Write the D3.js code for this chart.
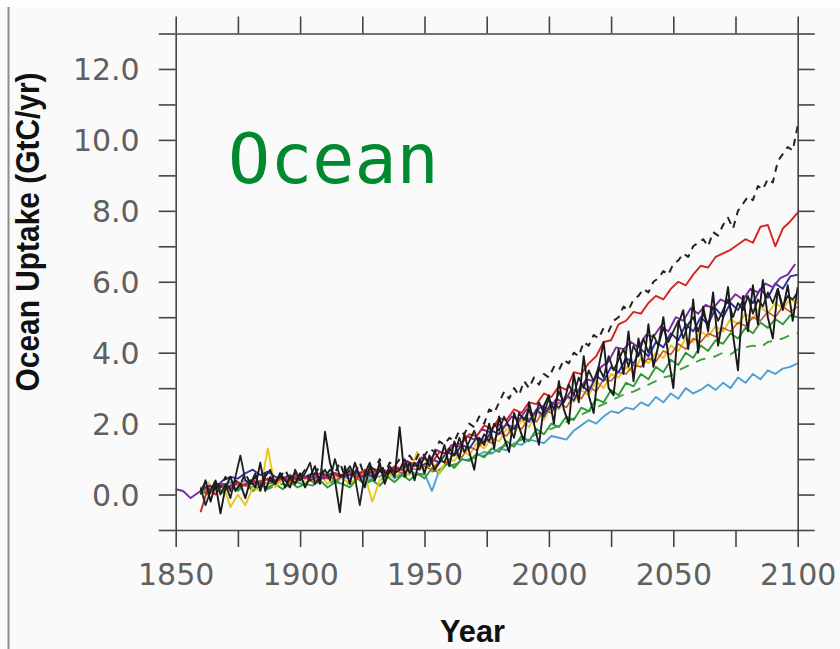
<!DOCTYPE html>
<html>
<head>
<meta charset="utf-8">
<script src="https://cdn.jsdelivr.net/npm/d3@7"></script>
<style>
  html, body { margin: 0; padding: 0; background: #fafafa; }
  svg { display: block; }
</style>
</head>
<body>
<div id="chart"></div>
<script>
// ocean carbon uptake (GtC/yr)
// colored series: every 3 years from 1860 (purple from 1850), black series: every 2 years
const xTickYears = [1850, 1875, 1900, 1925, 1950, 1975, 2000, 2025, 2050, 2075, 2100];
const xLabelYears = [1850, 1900, 1950, 2000, 2050, 2100];
const yTickValues = [-1, 0, 1, 2, 3, 4, 5, 6, 7, 8, 9, 10, 11, 12, 13];
const yLabelValues = [0, 2, 4, 6, 8, 10, 12];

const lightBlue = [
  0.2,0.1,0.3,0.2,0.35,0.25,0.4,0.3,0.35,0.45,
  0.3,0.4,0.35,0.5,0.3,0.45,0.4,0.55,0.35,0.5,
  0.45,0.6,0.4,0.55,0.5,0.65,0.45,0.6,0.7,0.55,
  0.6,0.1,0.7,0.85,0.8,1.0,0.95,1.1,1.2,1.15,
  1.3,1.25,1.45,1.4,1.55,1.5,1.45,1.65,1.6,1.55,
  1.8,1.95,2.1,2.0,2.2,2.35,2.3,2.45,2.4,2.6,
  2.5,2.75,2.6,2.85,2.7,3.0,2.85,2.95,3.1,2.95,
  3.15,3.0,3.3,3.15,3.4,3.25,3.5,3.4,3.55,3.6,
  3.7
];
const green = [
  0.1,0.0,0.2,0.05,0.25,0.15,0.3,0.1,0.25,0.2,
  0.3,0.15,0.35,0.2,0.3,0.25,0.4,0.2,0.35,0.3,
  0.2,0.45,0.3,0.4,0.25,0.5,0.35,0.55,0.4,0.6,
  0.45,0.75,0.6,0.9,0.75,1.0,0.95,1.15,1.05,1.3,
  1.2,1.5,1.35,1.65,1.5,1.85,1.7,2.0,1.9,2.2,
  2.1,2.45,2.35,2.7,2.6,2.95,2.8,3.15,3.05,3.4,
  3.25,3.6,3.45,3.8,3.65,4.0,3.85,4.2,4.05,4.35,
  4.25,4.55,4.4,4.7,4.55,4.85,4.7,4.95,4.8,5.05,
  5.0
];
const greenDashed = [
  0.15,0.05,0.2,0.1,0.2,0.1,0.25,0.2,0.3,0.15,
  0.25,0.3,0.2,0.35,0.25,0.3,0.35,0.3,0.4,0.35,
  0.3,0.4,0.35,0.45,0.4,0.5,0.45,0.55,0.5,0.6,
  0.55,0.65,0.7,0.8,0.85,0.9,1.0,1.05,1.1,1.2,
  1.3,1.4,1.45,1.55,1.6,1.7,1.8,1.85,1.95,2.05,
  2.15,2.25,2.35,2.45,2.55,2.65,2.75,2.85,2.9,3.0,
  3.1,3.2,3.3,3.35,3.5,3.6,3.7,3.8,3.85,3.9,
  4.0,3.95,4.1,4.15,4.2,4.15,4.3,4.35,4.4,4.5,
  4.55
];
const yellow = [
  0.2,0.35,0.1,0.3,-0.35,0.0,-0.3,0.2,0.1,1.3,
  0.2,0.45,0.3,0.5,0.35,0.4,0.55,0.3,0.5,0.45,
  0.3,0.5,0.55,-0.2,0.4,0.6,0.5,0.65,0.55,1.2,
  0.7,0.9,0.6,1.0,0.95,1.25,1.1,1.45,1.3,1.6,
  1.5,1.85,1.7,2.1,1.9,2.35,2.1,2.5,2.4,2.75,
  2.6,2.95,2.8,3.2,3.0,3.4,3.3,3.6,3.45,3.85,
  3.7,4.0,3.85,4.2,4.05,4.4,4.3,4.6,4.45,4.75,
  4.6,4.95,4.8,5.1,4.95,5.3,5.1,5.4,5.25,5.5,
  5.4
];
const orange = [
  0.1,0.25,0.15,0.3,0.2,0.35,0.25,0.3,0.4,0.3,
  0.35,0.45,0.3,0.4,0.5,0.35,0.45,0.6,0.4,0.5,
  0.55,0.45,0.6,0.5,0.65,0.55,0.7,0.6,0.75,0.7,
  0.8,0.7,0.95,0.9,1.15,1.05,1.35,1.25,1.55,1.45,
  1.75,1.65,1.95,1.85,2.15,2.05,2.4,2.3,2.6,2.45,
  2.8,2.7,3.05,2.9,3.25,3.2,3.45,3.4,3.65,3.6,
  3.85,3.75,4.05,3.95,4.25,4.1,4.4,4.3,4.55,4.45,
  4.7,4.6,4.85,4.75,5.0,4.9,5.15,5.0,5.3,5.15,
  5.3
];
const darkBlue = [
  0.1,0.25,0.2,0.4,0.5,0.45,0.6,0.7,0.55,0.65,
  0.5,0.45,0.55,0.4,0.5,0.6,0.45,0.55,0.6,0.5,
  0.55,0.6,0.65,0.5,0.7,0.6,0.75,0.7,0.85,0.8,
  0.85,1.0,0.9,1.2,1.1,1.4,1.3,1.6,1.45,1.8,
  1.7,2.0,1.85,2.2,2.05,2.4,2.2,2.6,2.45,2.8,
  2.65,3.1,2.9,3.35,3.2,3.6,3.45,3.85,3.7,4.1,
  3.9,4.3,4.15,4.55,4.35,4.8,4.6,5.0,4.8,5.25,
  5.0,5.4,5.2,5.6,5.4,5.8,5.55,5.95,5.8,6.15,
  6.2
];
const purple = [
  0.15,0.1,-0.1,0.05,0.2,0.1,0.3,0.2,0.35,0.25,
  0.4,0.3,0.45,0.35,0.5,0.4,0.45,0.55,0.4,0.5,
  0.45,0.6,0.5,0.55,0.65,0.5,0.6,0.7,0.6,0.75,
  0.7,0.95,0.8,1.05,0.95,1.25,1.15,1.4,1.35,1.65,
  1.55,1.85,1.75,2.0,1.9,2.2,2.1,2.4,2.25,2.5,
  2.4,2.7,2.6,2.95,2.9,3.25,3.2,3.6,3.75,4.15,
  4.1,4.3,4.15,4.5,4.45,4.75,4.6,5.0,4.9,5.25,
  5.1,5.35,5.25,5.5,5.4,5.65,5.5,5.8,5.7,5.95,
  5.85,6.1,6.2,6.5
];
const red = [
  -0.5,0.2,0.0,0.3,0.15,0.35,0.25,0.4,0.3,0.45,
  0.35,0.5,0.4,0.55,0.45,0.5,0.6,0.45,0.6,0.55,
  0.65,0.5,0.7,0.6,0.75,0.65,0.8,0.7,0.9,0.85,
  1.0,0.9,1.2,1.15,1.4,1.45,1.7,1.65,1.95,1.85,
  2.15,2.1,2.4,2.3,2.6,2.55,2.85,2.75,3.05,2.95,
  3.45,3.4,3.7,3.9,4.3,4.35,4.8,4.9,5.15,5.1,
  5.4,5.6,5.5,5.8,6.0,5.9,6.2,6.45,6.4,6.7,
  6.8,6.9,7.05,7.2,7.1,7.55,7.6,7.0,7.5,7.7,
  7.95
];
const blackA = [
  0.0,0.4,-0.2,0.3,-0.53,0.2,0.5,0.1,0.3,-0.1,
  0.4,0.2,0.9,0.1,0.5,0.3,0.6,0.2,0.5,0.3,
  0.6,0.2,0.5,0.8,0.3,1.77,0.9,0.4,-0.5,0.8,
  0.3,0.9,0.5,0.2,0.8,0.4,0.9,0.3,0.7,0.5,
  1.9,0.5,0.9,0.4,1.0,0.6,1.1,0.7,0.9,1.4,
  0.8,1.5,1.0,1.7,1.2,0.7,1.6,1.4,2.0,1.3,
  2.2,1.6,1.2,2.3,1.9,1.5,2.6,2.0,1.4,2.5,
  2.8,2.0,3.2,2.4,2.0,3.4,2.6,3.9,2.8,2.3,
  3.6,4.3,3.0,2.8,4.1,3.4,4.6,3.2,4.4,3.6,
  4.8,3.6,4.2,5.0,3.9,3.0,4.8,5.2,4.1,5.5,
  4.0,5.3,4.6,5.7,4.2,5.0,5.85,4.5,3.5,5.6,
  4.6,5.9,4.8,6.05,5.0,4.4,5.8,5.2,5.9,4.9,
  5.85
];
const blackB = [
  0.2,-0.3,0.1,0.4,0.0,0.3,-0.1,0.5,1.1,0.4,
  0.3,0.6,0.1,0.5,0.7,0.3,0.6,0.4,0.2,0.7,
  0.4,0.6,0.9,0.3,0.5,0.7,0.4,1.0,0.5,0.6,
  0.8,0.5,-0.3,0.6,0.9,0.4,0.7,0.5,0.8,0.6,
  0.7,1.0,0.6,0.9,0.7,1.1,0.8,1.2,1.0,0.9,
  1.3,1.1,1.6,1.2,1.5,1.8,1.4,1.7,1.5,2.0,
  1.8,2.2,1.9,1.6,2.3,2.1,2.4,2.0,2.6,2.3,
  2.7,2.4,2.9,2.6,3.1,2.8,3.3,3.0,3.5,3.2,
  3.6,3.3,3.9,3.5,3.8,4.1,3.6,4.2,3.9,4.4,
  4.0,4.5,4.2,4.7,4.3,4.6,4.9,4.4,4.8,5.0,
  4.6,5.1,4.8,5.3,4.9,5.2,5.5,5.0,5.4,5.2,
  5.6,5.1,5.5,5.3,5.7,5.4,5.8,5.3,5.6,5.5,
  5.7
];
const blackDashed = [
  0.1,0.3,0.0,0.4,0.2,0.5,0.1,0.4,0.3,0.6,
  0.3,0.5,0.2,0.6,0.4,0.3,0.5,0.7,0.4,0.6,
  0.5,0.7,0.4,0.6,0.8,0.5,0.7,0.6,0.9,0.5,
  0.7,0.6,0.9,0.5,0.8,0.7,1.0,0.6,0.9,0.8,
  1.0,0.8,1.1,0.9,1.2,1.1,1.3,1.2,1.5,1.4,
  1.6,1.5,1.8,1.7,2.0,1.9,2.2,2.0,2.4,2.3,
  2.6,2.9,2.7,3.0,2.8,3.2,3.0,3.3,3.1,3.4,
  3.3,3.6,3.5,3.8,3.7,4.0,3.9,4.3,4.2,4.5,
  4.4,4.7,4.6,4.9,5.0,5.3,5.2,5.5,5.6,5.8,
  5.7,6.0,6.1,6.3,6.2,6.5,6.6,6.8,6.7,7.0,
  7.1,7.2,7.0,7.4,7.3,7.6,7.8,7.5,8.0,8.2,
  8.4,8.3,8.7,8.6,8.9,8.8,9.4,9.6,9.8,9.7,
  10.4
];

// years attached to each series: start year and step
const series = [
  {values: lightBlue,   start: 1860, step: 3, color: "#4e9fd4", width: 1.9},
  {values: greenDashed, start: 1860, step: 3, color: "#3f9e3f", width: 1.9, dash: "10,8"},
  {values: green,       start: 1860, step: 3, color: "#2f9a35", width: 1.9},
  {values: yellow,      start: 1860, step: 3, color: "#e7c61c", width: 1.9},
  {values: orange,      start: 1860, step: 3, color: "#c8552a", width: 1.6},
  {values: darkBlue,    start: 1860, step: 3, color: "#27309c", width: 1.9},
  {values: purple,      start: 1850, step: 3, color: "#7a2c9e", width: 1.9},
  {values: red,         start: 1860, step: 3, color: "#d3241f", width: 1.9},
  {values: blackB,      start: 1860, step: 2, color: "#222222", width: 1.8},
  {values: blackA,      start: 1860, step: 2, color: "#1a1a1a", width: 1.9},
  {values: blackDashed, start: 1860, step: 2, color: "#222222", width: 2, dash: "7,6"}
];

const width = 840, height = 649;
const plot = {left: 175.7, right: 797.7, top: 33.5, bottom: 530};

const svg = d3.select("#chart").append("svg")
  .attr("width", width)
  .attr("height", height);

svg.append("rect").attr("width", width).attr("height", height).attr("fill", "#fafafa");
svg.append("rect").attr("width", width).attr("height", 7).attr("fill", "#ffffff");
// scan border on the left
svg.append("line")
  .attr("x1", 8.5).attr("x2", 8.5).attr("y1", 7).attr("y2", height)
  .attr("stroke", "#8c8c8c").attr("stroke-width", 2);

const x = d3.scaleLinear().domain([1850, 2100]).range([plot.left, plot.right]);
const y = d3.scaleLinear().domain([-1, 13]).range([plot.bottom, plot.top]);

const line = d3.line()
  .x(d => x(d[0]))
  .y(d => y(d[1]));

const lines = svg.append("g");
series.forEach(s => {
  const pts = s.values.map((v, i) => [s.start + i * s.step, v]);
  lines.append("path")
    .datum(pts)
    .attr("fill", "none")
    .attr("stroke", s.color)
    .attr("stroke-width", s.width)
    .attr("stroke-linejoin", "round")
    .attr("stroke-dasharray", s.dash || null)
    .attr("d", line);
});

// frame + outward ticks on all four sides
const tickLen = 17;
const fmtY = v => yLabelValues.includes(v) ? d3.format(".1f")(v) : "";
const fmtX = v => xLabelYears.includes(v) ? String(v) : "";

function styleAxis(g) {
  g.select(".domain").attr("stroke", "#444").attr("stroke-width", 1.6);
  g.selectAll(".tick line").attr("stroke", "#444").attr("stroke-width", 1.6);
  g.selectAll(".tick text")
    .attr("fill", "#606060")
    .attr("font-family", "DejaVu Sans, sans-serif")
    .attr("font-size", 30);
}

svg.append("g")
  .attr("transform", `translate(${plot.left},0)`)
  .call(d3.axisLeft(y).tickValues(yTickValues).tickSize(tickLen).tickSizeOuter(0).tickPadding(19).tickFormat(fmtY))
  .call(styleAxis)
  .call(g => g.selectAll(".tick text").attr("dy", "0.36em"));

svg.append("g")
  .attr("transform", `translate(${plot.right},0)`)
  .call(d3.axisRight(y).tickValues(yTickValues).tickSize(tickLen).tickSizeOuter(0).tickFormat(""))
  .call(styleAxis);

svg.append("g")
  .attr("transform", `translate(0,${plot.top})`)
  .call(d3.axisTop(x).tickValues(xTickYears).tickSize(tickLen).tickSizeOuter(0).tickFormat(""))
  .call(styleAxis);

svg.append("g")
  .attr("transform", `translate(0,${plot.bottom})`)
  .call(d3.axisBottom(x).tickValues(xTickYears).tickSize(tickLen).tickSizeOuter(0).tickPadding(17).tickFormat(fmtX))
  .call(styleAxis);

// axis titles
svg.append("text")
  .attr("transform", "translate(39,232) rotate(-90)")
  .attr("text-anchor", "middle")
  .attr("font-family", "Liberation Sans, Arial, sans-serif")
  .attr("font-weight", "bold")
  .attr("font-size", 34)
  .attr("textLength", 319)
  .attr("lengthAdjust", "spacingAndGlyphs")
  .attr("fill", "#111")
  .text("Ocean Uptake (GtC/yr)");

svg.append("text")
  .attr("x", 472.5)
  .attr("y", 642)
  .attr("text-anchor", "middle")
  .attr("font-family", "Liberation Sans, Arial, sans-serif")
  .attr("font-weight", "bold")
  .attr("font-size", 31)
  .attr("textLength", 65)
  .attr("lengthAdjust", "spacingAndGlyphs")
  .attr("fill", "#111")
  .text("Year");

// panel label
svg.append("text")
  .attr("x", 228)
  .attr("y", 183)
  .attr("font-family", "DejaVu Sans Mono, monospace")
  .attr("font-size", 70)
  .attr("fill", "#00892f")
  .text("Ocean");
</script>
</body>
</html>
